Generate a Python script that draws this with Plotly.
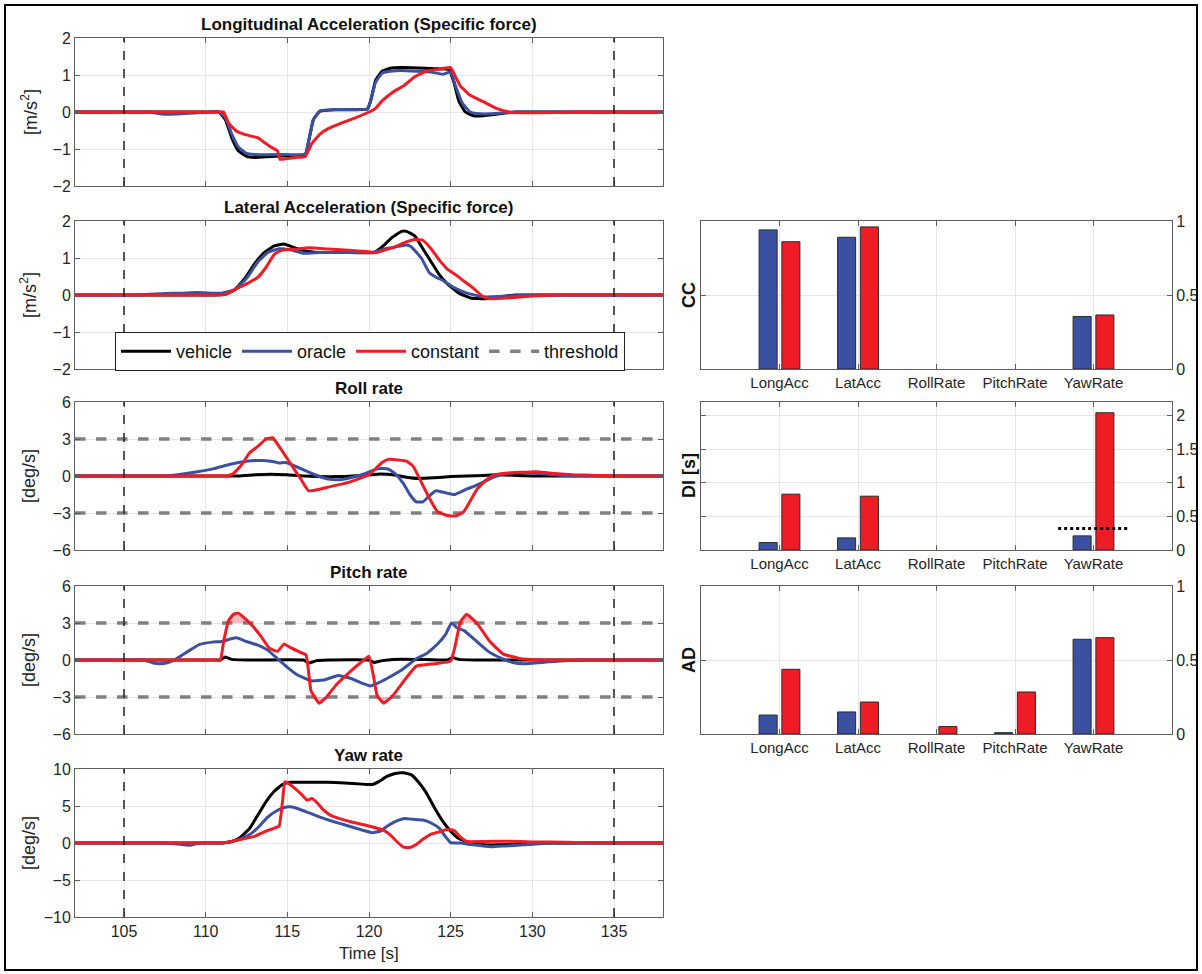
import plotly.graph_objects as go
import numpy as np

W, H = 1202, 974

# ---------------- time series data ----------------
# Longitudinal acceleration [m/s^2]
lon_veh_t = [102,108,110.3,110.8,111.2,111.6,112.0,112.5,113.0,114.0,115.0,116.1,116.3,116.6,117.0,118.0,119.9,120.1,120.4,120.8,121.3,122.0,123.0,124.0,124.9,125.2,125.5,125.9,126.4,127.0,127.8,129.0,133,138]
lon_veh_y = [0,0,0,0,-0.2,-0.7,-1.05,-1.2,-1.23,-1.2,-1.18,-1.15,-0.8,-0.2,0.02,0.06,0.08,0.3,0.85,1.1,1.18,1.2,1.19,1.17,1.15,0.8,0.3,0.0,-0.1,-0.1,-0.06,0,0,0]
lon_ora_t = [102,104,106.5,107.5,108.5,109.5,110.3,110.8,111.2,111.6,112.0,112.5,113.0,114.5,116.1,116.3,116.6,117.0,118.0,119.9,120.1,120.4,120.8,121.3,122.0,123.0,123.8,124.5,125.0,125.3,125.7,126.2,126.8,127.5,129,133,138]
lon_ora_y = [0,0,0,-0.06,-0.05,-0.02,0,0,-0.15,-0.6,-0.95,-1.12,-1.15,-1.15,-1.13,-0.8,-0.2,0.03,0.07,0.08,0.3,0.8,1.05,1.1,1.12,1.1,1.08,1.02,1.08,0.7,0.25,0.0,-0.05,-0.05,0,0,0]
lon_con_t = [102,108,110.6,111.1,111.4,111.9,112.5,113.2,113.9,114.4,114.55,114.8,115.5,116.1,116.5,117.0,117.5,118.3,119.2,120.0,120.4,120.8,121.5,122.1,122.8,123.5,124.2,125.0,125.3,125.6,126.2,127.0,127.8,128.6,130,133,138]
lon_con_y = [0,0,0,0,-0.3,-0.52,-0.62,-0.7,-0.92,-1.05,-1.28,-1.27,-1.23,-1.2,-0.85,-0.6,-0.45,-0.3,-0.15,0.0,0.1,0.3,0.55,0.7,0.95,1.1,1.15,1.2,0.95,0.7,0.45,0.28,0.1,0.0,-0.02,0,0]

# Lateral acceleration [m/s^2]
lat_veh_t = [102,107,110.5,111.2,111.8,112.4,113.0,113.6,114.2,114.8,115.3,116.0,117.0,118.5,120.3,120.8,121.4,122.0,122.3,122.8,123.3,123.8,124.3,124.8,125.5,126.2,127.0,128.0,129,133,138]
lat_veh_y = [0,0,0,0.02,0.15,0.45,0.85,1.15,1.33,1.38,1.3,1.2,1.15,1.15,1.15,1.3,1.55,1.72,1.72,1.6,1.25,0.9,0.55,0.3,0.05,-0.08,-0.1,-0.05,0,0,0]
lat_ora_t = [102,104,106,107.5,108.5,109.5,110.3,111.0,111.8,112.5,113.2,113.8,114.5,115.2,116.0,117.0,118.5,120.3,121.0,121.6,122.3,122.6,123.2,123.7,124.1,124.5,125.2,126.0,127.0,128.5,130,133,138]
lat_ora_y = [0,0,0,0.04,0.05,0.07,0.05,0.05,0.15,0.45,0.9,1.15,1.25,1.22,1.13,1.15,1.15,1.15,1.25,1.3,1.35,1.3,1.0,0.6,0.48,0.4,0.2,0.05,-0.05,-0.03,0,0,0]
lat_con_t = [102,107,110.5,111.2,111.8,112.5,113.2,113.7,114.2,114.6,115.0,115.6,116.3,117.5,119.0,120.5,121.0,121.6,122.2,122.8,123.3,123.8,124.3,124.8,125.3,125.8,126.4,127.0,127.5,128.5,130,131.5,134,138]
lat_con_y = [0,0,0,0.02,0.15,0.3,0.48,0.75,1.1,1.2,1.23,1.24,1.28,1.24,1.2,1.15,1.22,1.3,1.42,1.5,1.48,1.25,0.95,0.7,0.55,0.38,0.18,-0.05,-0.1,-0.08,-0.03,0,0,0]

# Roll rate [deg/s]
roll_veh_t = [102,108,112,113,114,115,116,118,119.5,120.5,121.5,122.3,123,124,125,126,127,128,129,130,132,135,138]
roll_veh_y = [0,0,0,0.1,0.15,0.1,0,-0.05,0.05,0.15,0.1,-0.1,-0.2,-0.15,-0.05,0,0.05,0.1,0.05,0,0,0,0]
roll_ora_t = [102,105,107.5,108.5,109.5,110.5,111.5,112.5,113.5,114.2,114.5,114.9,115.3,116,116.7,117.5,118.2,119,119.8,120.3,120.8,121.2,121.6,122.1,122.5,122.9,123.3,123.7,124.1,124.5,124.8,125.2,125.6,126,126.5,127,127.6,128.3,129.2,130.5,132,135,138]
roll_ora_y = [0,0,0,0.15,0.35,0.6,0.95,1.2,1.25,1.15,1.05,1.1,0.9,0.5,0.1,-0.25,-0.3,-0.1,0.2,0.5,0.6,0.55,0.2,-0.6,-1.5,-2.1,-2.1,-1.6,-1.2,-1.3,-1.4,-1.5,-1.3,-1.05,-0.8,-0.5,-0.1,0.15,0.3,0.2,0.05,0,0]
roll_con_t = [102,108,110.8,111.3,111.7,112.2,112.7,113.2,113.7,114.1,114.6,115.2,115.8,116.3,117.5,118.8,120.0,120.8,121.2,121.8,122.3,122.7,123.2,123.7,124.2,124.8,125.3,125.8,126.6,127.2,127.7,128.5,129.5,130.2,131,132.5,134,136,138]
roll_con_y = [0,0,0,0,0.2,0.9,1.9,2.4,3.0,3.1,2.2,1.0,-0.2,-1.2,-0.9,-0.5,0.1,1.1,1.35,1.3,1.2,0.8,-0.5,-1.8,-2.9,-3.2,-3.25,-2.9,-1.1,-0.3,0.1,0.25,0.3,0.35,0.25,0.1,0.05,0,0]

# Pitch rate [deg/s]
pitch_veh_t = [102,108,110.5,110.9,111.2,111.6,112.5,116.0,116.3,116.8,117.5,120.0,120.3,120.8,121.5,123,124.8,125.1,125.5,126.5,130,138]
pitch_veh_y = [0,0,0,0,0.25,0.05,0,0,-0.25,-0.05,0,0,-0.2,-0.05,0.05,0.05,0,0.2,0.05,0,0,0]
pitch_ora_t = [102,104,106.2,106.8,107.2,107.7,108.1,108.8,109.6,110.4,111.0,111.5,111.9,112.5,113.2,113.8,114.4,115.0,115.6,116.5,117.3,118.1,118.9,119.6,120.1,120.5,121.1,121.9,122.5,122.9,123.5,124.2,124.7,125.05,125.4,125.8,126.6,127.3,128.0,128.8,129.5,131,133,136,138]
pitch_ora_y = [0,0,0,-0.25,-0.3,-0.2,0,0.6,1.25,1.45,1.5,1.7,1.8,1.5,1.2,0.8,0.1,-0.6,-1.2,-1.7,-1.6,-1.25,-1.5,-1.9,-2.1,-1.9,-1.5,-0.9,-0.3,0.1,0.5,1.3,2.1,3.0,2.6,2.4,1.5,0.7,0.2,-0.2,-0.3,-0.15,0,0,0]
pitch_con_t = [102,108,110.5,110.9,111.1,111.4,111.7,112.0,112.7,113.4,113.9,114.4,114.8,115.2,115.75,116.15,116.45,116.95,117.4,118.0,118.8,119.5,120.0,120.3,120.5,120.9,121.45,122.25,122.9,124.0,125.0,125.25,125.6,125.97,126.6,127.4,128.2,129.3,131,134,138]
pitch_con_y = [0,0,0,0,1.5,3.2,3.7,3.8,3.0,1.9,0.95,0.7,1.3,1.0,0.65,0.4,-2.5,-3.5,-3.0,-2.0,-1.0,-0.2,0.3,-1.5,-2.9,-3.5,-2.9,-1.5,-0.5,-0.3,-0.1,1.0,3.1,3.7,3.0,1.5,0.5,0.1,0,0,0]

# Yaw rate [deg/s]
yaw_veh_t = [102,108,111.0,111.6,112.1,112.7,113.2,113.7,114.2,114.7,115.2,116,117.5,119,120.2,120.6,121.1,121.6,122.1,122.6,123.0,123.5,124.0,124.5,125.0,125.5,126.2,127.0,128.0,129.5,131,134,138]
yaw_veh_y = [0,0,0,0.2,0.7,2.0,3.8,5.6,7.0,7.9,8.2,8.2,8.2,8.05,7.9,8.3,9.0,9.4,9.5,9.2,8.3,6.8,4.8,3.0,1.6,0.6,0.0,-0.25,-0.25,-0.1,0,0,0]
yaw_ora_t = [102,105,107.5,108.3,109.0,109.7,111,111.6,112.2,112.8,113.3,113.8,114.3,114.8,115.2,115.7,116.3,117.0,117.8,118.6,119.5,120.2,120.7,121.2,121.7,122.2,122.7,123.3,123.8,124.3,124.7,125.0,125.6,126.2,126.8,127.5,128.3,129.5,131,134,138]
yaw_ora_y = [0,0,0,-0.15,-0.3,0,0,0.2,0.6,1.3,2.3,3.5,4.3,4.8,4.9,4.6,4.1,3.5,2.9,2.4,1.8,1.4,1.6,2.4,3.0,3.3,3.2,3.1,2.7,2.0,0.8,0.05,0.0,-0.2,-0.35,-0.5,-0.4,-0.25,-0.05,0,0]
yaw_con_t = [102,108,111,111.6,112.2,113.0,113.7,114.2,114.5,114.7,114.85,115.1,115.5,115.9,116.2,116.5,116.8,117.2,117.6,118.2,119.0,119.8,120.5,120.9,121.3,121.7,122.1,122.5,122.9,123.3,123.8,124.3,124.7,125.2,125.6,126.0,127,128.5,130,132,135,138]
yaw_con_y = [0,0,0,0.2,0.5,0.9,1.6,2.0,2.3,5.5,8.3,8.0,7.3,6.5,5.8,6.0,5.5,4.5,3.8,3.3,2.8,2.4,2.0,1.7,1.1,0.2,-0.55,-0.6,-0.2,0.5,1.2,1.5,1.8,1.7,0.8,0.2,0.2,0.25,0.15,0.1,0,0]

event_bounds = [105, 135]          # dashed black verticals
rate_threshold = 3                  # deg/s, roll & pitch
di_threshold = 0.32                 # s, dotted line on DI YawRate

# ---------------- metric bar data ----------------
metric_names = ["LongAcc", "LatAcc", "RollRate", "PitchRate", "YawRate"]
cc_oracle = [0.94, 0.89, None, None, 0.355]
cc_constant = [0.86, 0.96, None, None, 0.365]
di_oracle = [0.11, 0.18, None, None, 0.21]
di_constant = [0.83, 0.80, None, None, 2.04]
ad_oracle = [0.128, 0.149, None, 0.009, 0.64]
ad_constant = [0.437, 0.216, 0.05, 0.284, 0.651]

titles = ["Longitudinal Acceleration (Specific force)", "Lateral Acceleration (Specific force)",
          "Roll rate", "Pitch rate", "Yaw rate"]
ylabels = ["[m/s<sup>2</sup>]", "[m/s<sup>2</sup>]", "[deg/s]", "[deg/s]", "[deg/s]"]
yranges = [[-2, 2], [-2, 2], [-6, 6], [-6, 6], [-10, 10]]
yticks = [[-2, -1, 0, 1, 2], [-2, -1, 0, 1, 2], [-6, -3, 0, 3, 6], [-6, -3, 0, 3, 6], [-10, -5, 0, 5, 10]]
xticks = [105, 110, 115, 120, 125, 130, 135]

BLACK = "#000000"
BLUE = "#3a50a0"
RED = "#ee1c25"
GRAY = "#808080"
AXC = "#5f5f5f"
GRID = "#e6e6e6"
FONT = "Liberation Sans, Arial, sans-serif"
TXT = "#262626"
SMOOTH = 0.35

def fx(px):
    return px / W

def fy(py):
    return 1 - py / H

left_x = [fx(75), fx(663)]
left_tops = [38, 221, 402, 586, 769]
ph = 148
right_x = [fx(701), fx(1172)]

series = [
    (lon_veh_t, lon_veh_y, lon_ora_t, lon_ora_y, lon_con_t, lon_con_y),
    (lat_veh_t, lat_veh_y, lat_ora_t, lat_ora_y, lat_con_t, lat_con_y),
    (roll_veh_t, roll_veh_y, roll_ora_t, roll_ora_y, roll_con_t, roll_con_y),
    (pitch_veh_t, pitch_veh_y, pitch_ora_t, pitch_ora_y, pitch_con_t, pitch_con_y),
    (yaw_veh_t, yaw_veh_y, yaw_ora_t, yaw_ora_y, yaw_con_t, yaw_con_y),
]

fig = go.Figure()
layout = dict(width=W, height=H, margin=dict(l=0, r=0, t=0, b=0, autoexpand=False), autosize=False,
              paper_bgcolor="white", plot_bgcolor="white",
              font=dict(family=FONT, size=15, color=TXT), barmode="overlay", shapes=[], annotations=[])

for i in range(5):
    n = i + 1
    xa, ya = ("x" if n == 1 else f"x{n}"), ("y" if n == 1 else f"y{n}")
    top = left_tops[i]
    layout[f"xaxis{n}"] = dict(domain=left_x, anchor=ya, range=[102, 138], tickvals=xticks,
                               showticklabels=(i == 4), showgrid=True, gridcolor=GRID, gridwidth=1,
                               showline=True, linecolor=AXC, linewidth=1, mirror="ticks",
                               ticks="inside", ticklen=5, tickcolor=AXC, zeroline=False, automargin=False,
                               tickfont=dict(size=16, color=TXT))
    layout[f"yaxis{n}"] = dict(domain=[fy(top + ph), fy(top)], anchor=xa, range=yranges[i], tickvals=yticks[i],
                               showgrid=True, gridcolor=GRID, gridwidth=1, zeroline=False, automargin=False,
                               showline=True, linecolor=AXC, linewidth=1, mirror="ticks",
                               ticks="inside", ticklen=5, tickcolor=AXC,
                               tickfont=dict(size=16, color=TXT))
    layout["annotations"].append(dict(text=f"<b>{titles[i]}</b>", x=(left_x[0] + left_x[1]) / 2, y=fy(top),
                                      xref="paper", yref="paper", xanchor="center", yanchor="bottom",
                                      yshift=2, showarrow=False, font=dict(size=17, color="#111")))
    layout["annotations"].append(dict(text=ylabels[i], x=fx(29), y=fy(top + ph / 2), xref="paper", yref="paper",
                                      textangle=-90, showarrow=False, font=dict(size=18, color=TXT),
                                      xanchor="center", yanchor="middle"))
    # event boundaries
    for eb in event_bounds:
        layout["shapes"].append(dict(type="line", xref=xa, yref=f"{ya} domain", x0=eb, x1=eb, y0=0, y1=1,
                                     line=dict(color="#222", width=1.5, dash="dash")))
    # thresholds
    if i in (2, 3):
        for s in (1, -1):
            fig.add_trace(go.Scatter(x=[102, 138], y=[s * rate_threshold] * 2, mode="lines",
                                     line=dict(color=GRAY, width=3.5, dash="dash"),
                                     name="threshold", showlegend=(i == 2 and s == 1),
                                     legendrank=4, xaxis=xa, yaxis=ya, hoverinfo="skip"))
    vt, vy, ot, oy, ct, cy = series[i]
    if i == 3:
        cyarr = np.array(cy, dtype=float)
        # shaded exceedance of the threshold by the constant model
        fig.add_trace(go.Scatter(x=ct, y=[rate_threshold] * len(ct), mode="lines", line=dict(width=0),
                                 showlegend=False, xaxis=xa, yaxis=ya, hoverinfo="skip"))
        fig.add_trace(go.Scatter(x=ct, y=np.maximum(cyarr, rate_threshold), mode="lines", line=dict(width=0),
                                 fill="tonexty", fillcolor="rgba(238,28,37,0.3)",
                                 showlegend=False, xaxis=xa, yaxis=ya, hoverinfo="skip"))
        fig.add_trace(go.Scatter(x=ct, y=[-rate_threshold] * len(ct), mode="lines", line=dict(width=0),
                                 showlegend=False, xaxis=xa, yaxis=ya, hoverinfo="skip"))
        fig.add_trace(go.Scatter(x=ct, y=np.minimum(cyarr, -rate_threshold), mode="lines", line=dict(width=0),
                                 fill="tonexty", fillcolor="rgba(238,28,37,0.3)",
                                 showlegend=False, xaxis=xa, yaxis=ya, hoverinfo="skip"))
    show = (i == 1)
    fig.add_trace(go.Scatter(x=vt, y=vy, mode="lines", line=dict(color=BLACK, width=3, shape="spline", smoothing=SMOOTH),
                             name="vehicle", showlegend=show, legendrank=1, xaxis=xa, yaxis=ya))
    fig.add_trace(go.Scatter(x=ot, y=oy, mode="lines", line=dict(color=BLUE, width=3, shape="spline", smoothing=SMOOTH),
                             name="oracle", showlegend=show, legendrank=2, xaxis=xa, yaxis=ya))
    fig.add_trace(go.Scatter(x=ct, y=cy, mode="lines", line=dict(color=RED, width=3, shape="spline", smoothing=SMOOTH),
                             name="constant", showlegend=show, legendrank=3, xaxis=xa, yaxis=ya))

layout["annotations"].append(dict(text="Time [s]", x=(left_x[0] + left_x[1]) / 2, y=fy(953), xref="paper", yref="paper",
                                  showarrow=False, font=dict(size=17, color=TXT), xanchor="center", yanchor="middle"))

# ---------------- right bar charts ----------------
bar_sets = [("CC", cc_oracle, cc_constant, [0, 1], [0, 0.5, 1], ["0", "0.5", "1"], 221),
            ("DI [s]", di_oracle, di_constant, [0, 2.2], [0, 0.5, 1, 1.5, 2], ["0", "0.5", "1", "1.5", "2"], 402),
            ("AD", ad_oracle, ad_constant, [0, 1], [0, 0.5, 1], ["0", "0.5", "1"], 586)]
cat_pos = list(range(1, len(metric_names) + 1))
for j, (lab, ora, con, yr, ytv, ytt, top) in enumerate(bar_sets):
    n = 6 + j
    xa, ya = f"x{n}", f"y{n}"
    layout[f"xaxis{n}"] = dict(domain=right_x, anchor=ya, range=[0, 6], tickvals=cat_pos, ticktext=metric_names,
                               showgrid=True, gridcolor=GRID, zeroline=False, showline=True, linecolor=AXC,
                               linewidth=1, mirror="ticks", ticks="inside", ticklen=5, tickcolor=AXC,
                               automargin=False, tickfont=dict(size=15, color=TXT))
    layout[f"yaxis{n}"] = dict(domain=[fy(top + ph), fy(top)], anchor=xa, range=yr, tickvals=ytv, ticktext=ytt,
                               side="right", showgrid=True, gridcolor=GRID, zeroline=False, showline=True,
                               linecolor=AXC, linewidth=1, mirror="ticks", ticks="inside", ticklen=5,
                               automargin=False, tickcolor=AXC, tickfont=dict(size=16, color=TXT))
    fig.add_trace(go.Bar(x=cat_pos, y=ora, width=0.23, offset=-0.26, marker=dict(color=BLUE, line=dict(color="#2a2a2a", width=1)),
                         showlegend=False, xaxis=xa, yaxis=ya))
    fig.add_trace(go.Bar(x=cat_pos, y=con, width=0.23, offset=0.03, marker=dict(color=RED, line=dict(color="#2a2a2a", width=1)),
                         showlegend=False, xaxis=xa, yaxis=ya))
    layout["annotations"].append(dict(text=f"<b>{lab}</b>", x=fx(689), y=fy(top + ph / 2), xref="paper", yref="paper",
                                      textangle=-90, showarrow=False, font=dict(size=18, color="#111"),
                                      xanchor="center", yanchor="middle"))
    if lab.startswith("DI"):
        fig.add_trace(go.Scatter(x=[cat_pos[-1] - 0.45, cat_pos[-1] + 0.45], y=[di_threshold] * 2, mode="lines",
                                 line=dict(color="black", width=3, dash="dot"), showlegend=False,
                                 xaxis=xa, yaxis=ya, hoverinfo="skip"))

layout["legend"] = dict(orientation="h", x=fx(115), y=fy(332), xanchor="left", yanchor="top",
                        bgcolor="white", bordercolor="#222", borderwidth=1,
                        font=dict(size=18, color="#111"), traceorder="normal",
                        itemwidth=50, tracegroupgap=0)
# outer frame
layout["shapes"].append(dict(type="rect", xref="paper", yref="paper", x0=fx(5), x1=fx(1197), y0=fy(970), y1=fy(5),
                             line=dict(color="black", width=2)))

fig.update_layout(**layout)
fig.write_html("out.html", config={"displayModeBar": False},
               post_script="document.body.style.margin='0';document.body.style.overflow='hidden';")
